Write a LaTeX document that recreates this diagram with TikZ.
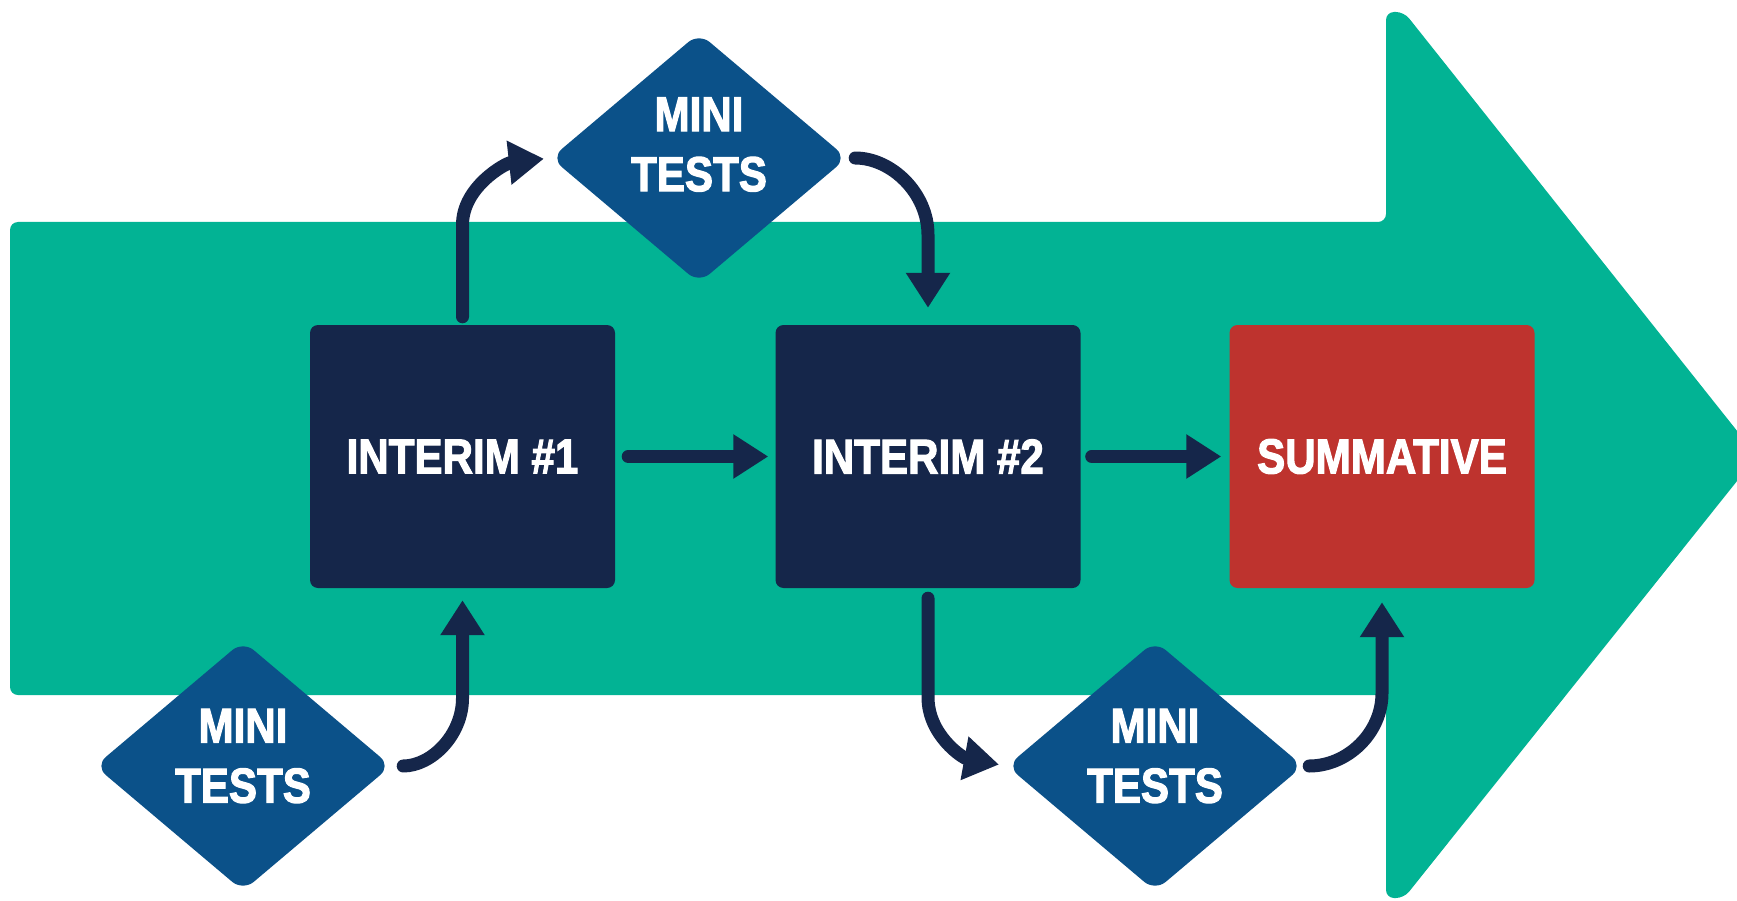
\documentclass[tikz,border=0pt]{standalone}
\usepackage{fontspec}
\usepackage{graphicx}
\newfontfamily\lblfont[FakeBold=2.5]{Liberation Sans Bold}
\newcommand\nar[1]{\scalebox{0.86}[1]{#1}}
\usetikzlibrary{arrows.meta,shapes.geometric,calc}
\definecolor{bandgreen}{RGB}{2,179,148}
\definecolor{navybox}{RGB}{21,38,74}
\definecolor{summred}{RGB}{190,51,46}
\definecolor{miniblue}{RGB}{11,81,137}
\begin{document}
\begin{tikzpicture}[x=1pt,y=-1pt,
  lbl/.style={text=white, font=\lblfont\fontsize{49}{60}\selectfont, inner sep=0pt},
  stagebox/.style={lbl, rectangle, rounded corners=8pt, minimum width=305pt, minimum height=263pt},
  minid/.style={diamond, fill=miniblue, rounded corners=14pt, minimum width=296pt, minimum height=250pt, inner sep=0pt},
  minitxt/.style={lbl, align=center},
  conn/.style={draw=navybox, line width=13pt, line cap=round, -{Triangle[length=35pt,width=42pt]}}
]
\useasboundingbox (0,0) rectangle (1737,901);
\fill[white] (0,0) rectangle (1737,901);
% big green arrow
\fill[bandgreen, rounded corners=8pt] (10,222) -- (1386,222) -- (1386,12) -- (1404,12) -- (1757,456) -- (1404,898) -- (1386,898) -- (1386,695) -- (10,695) -- cycle;
% stage boxes
\node[stagebox, fill=navybox] (i1) at (462.5,456.5) {\nar{INTERIM \#1}};
\node[stagebox, fill=navybox] (i2) at (928,456.5) {\nar{INTERIM \#2}};
\node[stagebox, fill=summred] (s) at (1382,456.5) {\nar{SUMMATIVE}};
% mini test diamonds
\node[minid] (m1) at (699,158) {};
\node[minitxt] (m1t) at (699,144.5) {\nar{MINI}\\\nar{TESTS}};
\node[minid] (m3) at (243,766) {};
\node[minitxt] (m3t) at (243,756) {\nar{MINI}\\\nar{TESTS}};
\node[minid] (m4) at (1155,766) {};
\node[minitxt] (m4t) at (1155,756) {\nar{MINI}\\\nar{TESTS}};
% connectors
\draw[conn, shorten <=13pt, shorten >=7pt] (i1.east) -- (i2.west);
\draw[conn, shorten <=11pt, shorten >=8pt] (i2.east) -- (s.west);
\draw[conn, shorten <=8pt, shorten >=7pt] (i1.north) -- ($(i1.north)+(0,-100)$) .. controls +(0,-38) and +(-45,5) .. (m1.west);
\draw[conn, shorten <=8pt, shorten >=17pt] (m1.east) .. controls +(44,0) and +(0,-42) .. ($(i2.north)+(0,-90)$) -- (i2.north);
\draw[conn, shorten <=12pt, shorten >=12pt] (m3.east) .. controls +(40,0) and +(0,37) .. ($(i1.south)+(0,110)$) -- (i1.south);
\draw[conn, shorten <=10pt, shorten >=8pt] (i2.south) -- ($(i2.south)+(0,109)$) .. controls +(0,38) and +(-44,-8) .. (m4.west);
\draw[conn, shorten <=6pt, shorten >=14pt] (m4.east) .. controls +(44,0) and +(0,40) .. ($(s.south)+(0,105)$) -- (s.south);
\end{tikzpicture}
\end{document}
